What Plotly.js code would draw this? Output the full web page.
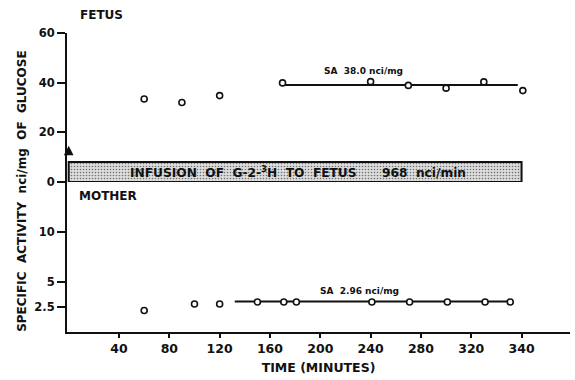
<!DOCTYPE html>
<html>
<head>
<meta charset="utf-8">
<script src="https://cdn.plot.ly/plotly-3.0.1.min.js"></script>
<style>html,body{margin:0;padding:0;background:#fff;}#chart{width:575px;height:380px;}</style>
</head>
<body>
<div id="chart"></div>
<script>
// ---- data ----
const fetusTime = [60, 90, 120, 170, 240, 270, 300, 330, 361];
const fetusSA   = [33.4, 32.0, 34.8, 39.9, 40.4, 38.9, 37.8, 40.3, 36.8];
const motherTime = [60, 100, 120, 150, 171, 181, 241, 271, 301, 331, 351];
const motherSA   = [2.15, 2.8, 2.8, 3.0, 3.0, 3.0, 3.0, 3.0, 3.0, 3.0, 3.0];
const fetusFitTime = [170, 357];
const fetusFitSA = [39.1, 39.1];
const motherFitTime = [132, 351];
const motherFitSA = [3.05, 3.05];
const infusionStart = 0, infusionEnd = 360, infusionTop = 8.1;
const xTickVals = [40, 80, 120, 160, 200, 240, 280, 320, 360];
const xTickText = ["40", "80", "120", "160", "200", "240", "280", "320", "340"];
const fetusTickVals = [0, 20, 40, 60];
const fetusTickText = ["0", "20", "40", "60"];
const motherTickVals = [2.5, 5, 10];
const motherTickText = ["2.5", "5", "10"];

const FONT = "DejaVu Sans, Arial, sans-serif";
const black = "#111";

const marker = {symbol: "circle", size: 6, color: "#fff", line: {color: black, width: 1.6}};

const traces = [
  { // infusion band
    x: [infusionStart, infusionEnd, infusionEnd, infusionStart, infusionStart],
    y: [0, 0, infusionTop, infusionTop, 0],
    xaxis: "x", yaxis: "y", mode: "lines", fill: "toself",
    fillcolor: "#d4d4d4",
    fillpattern: {shape: ".", bgcolor: "#dcdcdc", fgcolor: "#707070", size: 3, solidity: 0.22},
    line: {color: black, width: 2}, hoverinfo: "skip", showlegend: false
  },
  {x: fetusFitTime, y: fetusFitSA, xaxis: "x", yaxis: "y", mode: "lines",
   line: {color: black, width: 2}, showlegend: false},
  {x: motherFitTime, y: motherFitSA, xaxis: "x", yaxis: "y2", mode: "lines",
   line: {color: black, width: 2}, showlegend: false},
  {x: fetusTime, y: fetusSA, xaxis: "x", yaxis: "y", mode: "markers",
   marker: marker, cliponaxis: false, showlegend: false},
  {x: motherTime, y: motherSA, xaxis: "x", yaxis: "y2", mode: "markers",
   marker: marker, cliponaxis: false, showlegend: false}
];

const axisCommon = {showgrid: false, zeroline: false, showline: true, linecolor: black, linewidth: 2,
  tickcolor: black, tickwidth: 2};

const layout = {
  width: 575, height: 380,
  margin: {l: 67, r: 5, t: 33, b: 48, pad: 0},
  paper_bgcolor: "#fff", plot_bgcolor: "#fff",
  font: {family: FONT, color: black, size: 12, weight: "bold"},
  showlegend: false,
  xaxis: Object.assign({}, axisCommon, {
    range: [-1.35, 398.5], anchor: "y2", tickmode: "array", tickvals: xTickVals, ticktext: xTickText,
    ticks: "outside", ticklen: 4, tickfont: {size: 12.5, family: FONT, weight: "bold"},
    title: {text: "TIME (MINUTES)", standoff: 8, font: {size: 12.5, family: FONT, weight: "bold"}}
  }),
  xaxis2: {
    range: [-1.35, 398.5], overlaying: "x", anchor: "y2", side: "bottom", matches: "x",
    tickmode: "array", tickvals: xTickVals, ticks: "inside", ticklen: 4, tickcolor: black, tickwidth: 2,
    showticklabels: false, showgrid: false, zeroline: false, showline: false
  },
  yaxis: Object.assign({}, axisCommon, {
    domain: [0.5017, 1], range: [0, 60], anchor: "x", tickmode: "array",
    tickvals: fetusTickVals, ticktext: fetusTickText, ticks: "outside", ticklen: 8,
    tickfont: {size: 11.5, family: FONT, weight: "bold"}
  }),
  yaxis2: Object.assign({}, axisCommon, {
    domain: [0, 0.5017], range: [0, 15], anchor: "x", tickmode: "array",
    tickvals: motherTickVals, ticktext: motherTickText, ticks: "outside", ticklen: 8,
    tickfont: {size: 11.5, family: FONT, weight: "bold"}
  }),
  annotations: [
    {text: "FETUS", xref: "paper", yref: "paper", x: 0.022, y: 1.06, xanchor: "left", yanchor: "middle",
     showarrow: false, font: {size: 12, family: FONT, weight: "bold"}},
    {text: "MOTHER", xref: "x", yref: "y2", x: 6.5, y: 13.55, xanchor: "left", yanchor: "middle",
     showarrow: false, font: {size: 12, family: FONT, weight: "bold"}},
    {text: "SA  38.0 nci/mg", xref: "x", yref: "y", x: 201, y: 44.5, xanchor: "left", yanchor: "middle",
     showarrow: false, font: {size: 9, family: FONT, weight: "bold"}},
    {text: "SA  2.96 nci/mg", xref: "x", yref: "y2", x: 198, y: 4.06, xanchor: "left", yanchor: "middle",
     showarrow: false, font: {size: 9, family: FONT, weight: "bold"}},
    {text: "INFUSION  OF  G-2-<sup>3</sup>H  TO  FETUS      968  nci/min", xref: "x", yref: "y",
     x: 182, y: 4.0, xanchor: "center", yanchor: "middle", showarrow: false,
     font: {size: 12.2, family: FONT, weight: "bold"}},
    {text: " ", xref: "x", yref: "y", x: 0, y: 14.6, axref: "x", ayref: "y", ax: 0, ay: infusionTop,
     showarrow: true, arrowhead: 2, arrowsize: 1.2, arrowwidth: 1.6, arrowcolor: black},
    {text: "SPECIFIC  ACTIVITY  nci/mg  OF  GLUCOSE", xref: "paper", yref: "paper",
     x: -0.0895, y: 0.472, xanchor: "center", yanchor: "middle", textangle: -90, showarrow: false,
     font: {size: 12, family: FONT, weight: "bold"}}
  ]
};

Plotly.newPlot("chart", traces, layout, {staticPlot: true, displayModeBar: false});
</script>
</body>
</html>
